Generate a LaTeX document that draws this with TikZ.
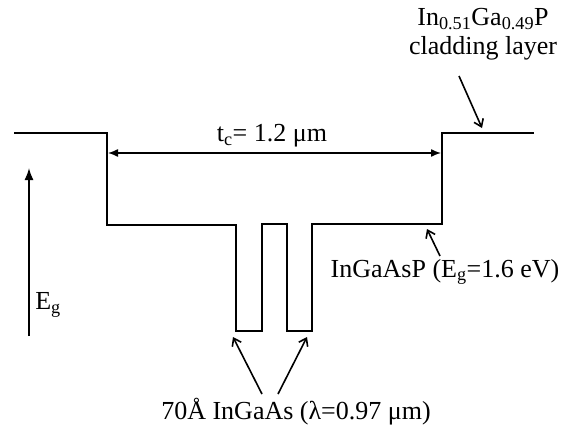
\documentclass[tikz,border=0pt]{standalone}
\usepackage{fontspec}
\setmainfont{Liberation Serif}
\usetikzlibrary{arrows.meta}
\begin{document}
\begin{tikzpicture}[x=1pt,y=-1pt,
 band/.style={line width=2pt, line join=miter},
 lbl/.style={font=\fontsize{26}{30}\selectfont, inner sep=0pt, anchor=center},
 ptr/.style={line width=1.6pt, -{Straight Barb[length=7pt,width=10pt,line width=1.6pt]}},
 dim/.style={line width=1.4pt, {Latex[length=10pt,width=8pt]}-{Latex[length=10pt,width=8pt]}},
 egarrow/.style={line width=1.6pt, -{Latex[length=12pt,width=9pt]}},
]
\useasboundingbox (0,0) rectangle (566,434);
% band profile
\draw[band] (14,133) -- (107,133) -- (107,225) -- (236,225) -- (236,331) -- (262,331)
  -- (262,224) -- (287,224) -- (287,331) -- (312,331) -- (312,224) -- (442,224)
  -- (442,133) -- (534,133);
% labels
\node[lbl] (clad1) at (483,19) {In\textsubscript{0.51}Ga\textsubscript{0.49}P};
\node[lbl] (clad2) at (483,48) {cladding layer};
\node[lbl] (tc) at (272,136) {t\textsubscript{c}= 1.2 μm};
\node[lbl] (quat) at (445,272) {InGaAsP (E\textsubscript{g}=1.6 eV)};
\node[lbl] (eg) at (48,305) {E\textsubscript{g}};
\node[lbl] (qw) at (296,412) {70Å InGaAs (λ=0.97 μm)};
% coordinates
\coordinate (dl) at (108,153);
\coordinate (dr) at (441,153);
\coordinate (cladtail) at (459,76);
\coordinate (cladtip) at (482,128);
\coordinate (quattail) at (440,256);
\coordinate (quattip) at (427,229);
\coordinate (qwl) at (262,394);
\coordinate (qwltip) at (233,337);
\coordinate (qwr) at (278,394);
\coordinate (qwrtip) at (307,337);
\coordinate (egbot) at (29,336);
\coordinate (egtop) at (29,168);
% connectors
\draw[dim] (dl) -- (dr);
\draw[ptr] (cladtail) -- (cladtip);
\draw[ptr] (quattail) -- (quattip);
\draw[ptr] (qwl) -- (qwltip);
\draw[ptr] (qwr) -- (qwrtip);
\draw[egarrow] (egbot) -- (egtop);
\end{tikzpicture}
\end{document}
